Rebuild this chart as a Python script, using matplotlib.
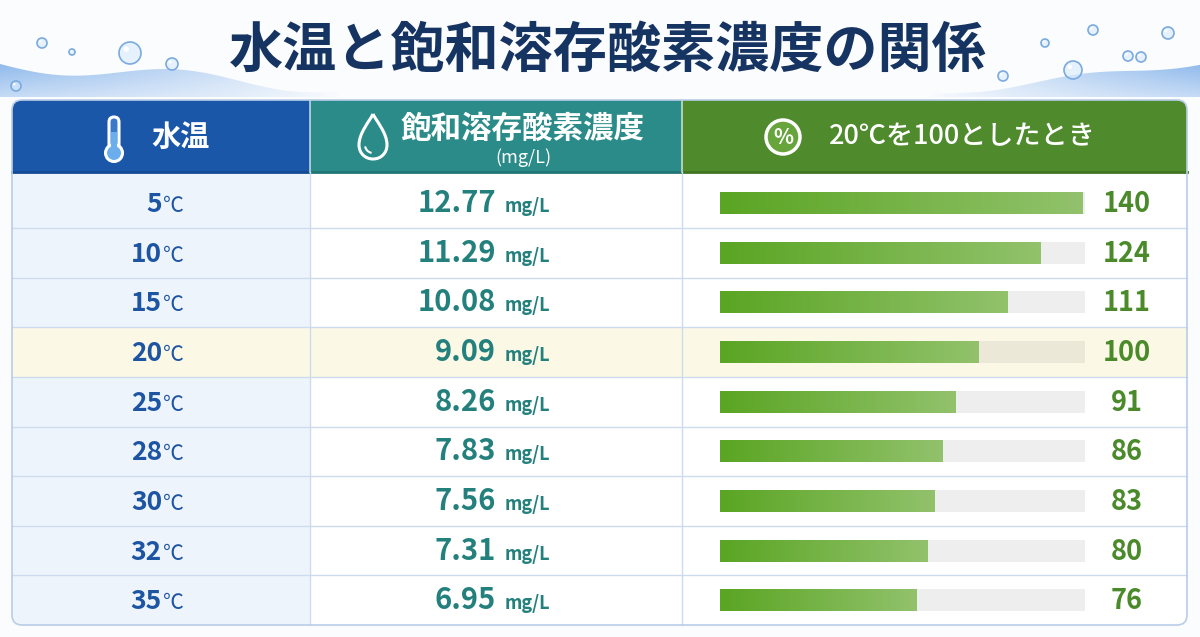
import numpy as np
import matplotlib
matplotlib.use('Agg')
import matplotlib.pyplot as plt
import matplotlib.patches as patches
from matplotlib.path import Path
from matplotlib.colors import LinearSegmentedColormap

plt.rcParams['font.family'] = ['Noto Sans CJK JP', 'DejaVu Sans']

# data
title = '水温と飽和溶存酸素濃度の関係'
headers = ['水温', '飽和溶存酸素濃度', '20℃を100としたとき']
header_unit = '(mg/L)'
temps = [5, 10, 15, 20, 25, 28, 30, 32, 35]
do_mgl = [12.77, 11.29, 10.08, 9.09, 8.26, 7.83, 7.56, 7.31, 6.95]
ratio = [140, 124, 111, 100, 91, 86, 83, 80, 76]
unit = 'mg/L'
ref_temp = 20

# layout (pixels)
W, H = 1200, 637
col_x = [12, 310, 682, 1187]
top, head_bot, bottom = 100, 172, 625
n = len(temps)
row_h = (bottom - 228) / (n - 1)
centers = bottom - row_h * (np.arange(n)[::-1] + 0.5)
bar_x0, bar_x1, bar_max = 720, 1085, 141

navy = '#163462'
blue = '#1b57a9'
teal = '#2a8b89'
green = '#4f8a2d'
txt_blue = '#1d55a3'
txt_teal = '#23807c'
txt_green = '#4a8a2a'
grid_c = '#cddbef'

fig = plt.figure(figsize=(W / 100, H / 100), dpi=100)
fig.patch.set_facecolor('#fbfcfe')
ax = fig.add_axes([0, 0, 1, 1])
ax.set_xlim(0, W)
ax.set_ylim(H, 0)
ax.axis('off')


# water decoration
def water(xs, ytop, fade, ybot=97):
    verts = list(zip(xs, ytop)) + [(xs[-1], ybot), (xs[0], ybot)]
    poly = patches.Polygon(verts, closed=True, facecolor='none', edgecolor='none')
    ax.add_patch(poly)
    img = np.zeros((60, 300, 4))
    img[..., 0], img[..., 1], img[..., 2] = 0.40, 0.63, 0.90
    a = np.linspace(0, 1, 300) if fade == 'in' else np.linspace(1, 0, 300)
    img[..., 3] = 0.8 * a[None, :] ** 0.7 * np.linspace(0.9, 0.45, 60)[:, None]
    im = ax.imshow(img, extent=(xs[0], xs[-1], ybot, min(ytop)), aspect='auto',
                   interpolation='bilinear', zorder=1)
    im.set_clip_path(poly)


lx = np.linspace(0, 340, 60)
water(lx, 64 + 7 * np.sin(lx / 38) + lx * 0.07, 'out')
rx = np.linspace(930, 1200, 60)
water(rx, 95 - (rx - 930) * 0.12 + 3 * np.sin(rx / 30), 'in')

bubbles = [(42, 43, 5), (72, 52, 3), (130, 53, 11), (172, 64, 6), (16, 86, 5),
           (1045, 43, 4), (1093, 30, 5), (1168, 33, 6), (1128, 56, 5),
           (1141, 57, 5), (1073, 70, 9), (1003, 76, 5)]
for bx, by, br in bubbles:
    ax.add_patch(patches.Circle((bx, by), br, facecolor=(0.85, 0.92, 1, 0.6),
                                edgecolor='#7aaade', lw=1.2, zorder=2))
    ax.add_patch(patches.Circle((bx - br * 0.35, by - br * 0.35), br * 0.25,
                                facecolor='white', edgecolor='none', zorder=2))

ax.text(608, 51, title, fontsize=39, fontweight='bold', color=navy,
        ha='center', va='center', zorder=3)

# table frame
frame = patches.FancyBboxPatch((col_x[0], top), col_x[-1] - col_x[0], bottom - top,
                               boxstyle='round,pad=0,rounding_size=10',
                               facecolor='white', edgecolor='none', zorder=2)
ax.add_patch(frame)

fills = []
for i, c in enumerate([blue, teal, green]):
    fills.append(patches.Rectangle((col_x[i], top), col_x[i + 1] - col_x[i],
                                   head_bot - top, facecolor=c, zorder=3))
fills.append(patches.Rectangle((col_x[0], head_bot), col_x[1] - col_x[0],
                               bottom - head_bot, facecolor='#eef4fc', zorder=3))
hi = temps.index(ref_temp)
fills.append(patches.Rectangle((col_x[0], centers[hi] - row_h / 2), col_x[-1] - col_x[0],
                               row_h, facecolor='#fcf8e6', zorder=3))
for p in fills:
    ax.add_patch(p)
    p.set_clip_path(frame)

# header bottom lines and grid
for i, c in enumerate(['#134a96', '#1f7675', '#3f7522']):
    ax.plot([col_x[i], col_x[i + 1]], [head_bot, head_bot], color=c, lw=2, zorder=4)
for x in col_x[1:-1]:
    ax.plot([x, x], [top, head_bot], color='white', lw=1.2, alpha=0.7, zorder=4)
    ax.plot([x, x], [head_bot, bottom], color=grid_c, lw=1, zorder=4)
for i in range(n - 1):
    y = centers[i] + row_h / 2
    ax.plot([col_x[0], col_x[-1]], [y, y], color=grid_c, lw=1, zorder=4)

outline = patches.FancyBboxPatch((col_x[0], top), col_x[-1] - col_x[0], bottom - top,
                                 boxstyle='round,pad=0,rounding_size=10',
                                 facecolor='none', edgecolor='#b9cde8', lw=1.2, zorder=5)
ax.add_patch(outline)

# header icons and labels
ax.add_patch(patches.FancyBboxPatch((109, 117), 10, 34, boxstyle='round,pad=0,rounding_size=5',
                                    facecolor='#3a78c8', edgecolor='white', lw=2.2, zorder=6))
ax.add_patch(patches.Circle((114, 153), 8.5, facecolor='#6aaeee', edgecolor='white', lw=2.2, zorder=6))
ax.add_patch(patches.Rectangle((111.3, 132), 5.4, 20, facecolor='#6aaeee', edgecolor='none', zorder=7))
ax.text(180, 137, headers[0], fontsize=21, fontweight='bold', color='white',
        ha='center', va='center', zorder=6)

drop = Path([(373, 114), (377, 122), (387, 133), (387, 145),
             (387, 153), (381, 159), (373, 159),
             (365, 159), (359, 153), (359, 145),
             (359, 133), (369, 122), (373, 114)],
            [Path.MOVETO] + [Path.CURVE4] * 12)
ax.add_patch(patches.PathPatch(drop, facecolor='none', edgecolor='white', lw=2.2, zorder=6))
ax.add_patch(patches.Arc((373, 145), 16, 16, theta1=100, theta2=170, color='white', lw=1.5, zorder=6))
ax.text(523, 129, headers[1], fontsize=22, fontweight='bold', color='white',
        ha='center', va='center', zorder=6)
ax.text(523, 158, header_unit, fontsize=13, color='white', ha='center', va='center', zorder=6)

ax.add_patch(patches.Circle((783, 137), 17, facecolor='#67a53c', edgecolor='white', lw=2.5, zorder=6))
ax.text(783, 138, '%', fontsize=15, fontweight='bold', color='white',
        ha='center', va='center', zorder=7)
ax.text(962, 137, headers[2], fontsize=19.5, fontweight='medium', color='white',
        ha='center', va='center', zorder=6)

# row texts
for i in range(n):
    yb = centers[i] + 9
    ax.text(162, yb, str(temps[i]), fontsize=19, fontweight='bold', color=txt_blue,
            ha='right', va='baseline', zorder=6)
    ax.text(163, yb, '℃', fontsize=15, color=txt_blue, ha='left', va='baseline', zorder=6)
    ax.text(496, yb, f'{do_mgl[i]:.2f}', fontsize=21, fontweight='bold', color=txt_teal,
            ha='right', va='baseline', zorder=6)
    ax.text(505, yb, unit, fontsize=13, fontweight='bold', color=txt_teal,
            ha='left', va='baseline', zorder=6)
    ax.text(1127, yb, str(ratio[i]), fontsize=19.5, fontweight='bold', color=txt_green,
            ha='center', va='baseline', zorder=6)

# bars
bax = fig.add_axes([bar_x0 / W, (H - bottom) / H, (bar_x1 - bar_x0) / W, (bottom - head_bot) / H])
bax.set_xlim(0, bar_max)
bax.set_ylim(bottom, head_bot)
bax.axis('off')
bax.patch.set_alpha(0)
track_c = ['#ece8d8' if t == ref_temp else '#eeeeee' for t in temps]
bax.barh(centers, [bar_max] * n, height=22, color=track_c, zorder=1)
bars = bax.barh(centers, ratio, height=22, color='none', zorder=2)
cmap = LinearSegmentedColormap.from_list('g', ['#5aa523', '#92c26c'])
grad = np.linspace(0, 1, 256)[None, :]
for b in bars:
    x0, y0, w, h = b.get_x(), b.get_y(), b.get_width(), b.get_height()
    bax.imshow(grad, cmap=cmap, extent=(x0, x0 + w, y0 + h, y0), aspect='auto', zorder=2)
bax.set_xlim(0, bar_max)
bax.set_ylim(bottom, head_bot)

fig.savefig('out.png', dpi=100, facecolor=fig.get_facecolor())
